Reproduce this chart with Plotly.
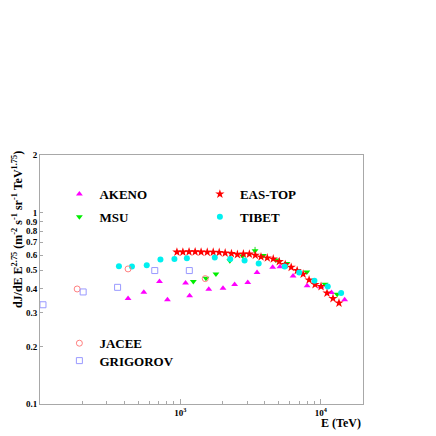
import plotly.graph_objects as go

# energies in TeV, flux dJ/dE * E^2.75
akeno_e = [424, 549, 710, 809, 1089, 1164, 1593, 2012, 2435, 3021, 3517, 4544, 5121, 6350, 7995, 10033, 11928, 14801]
akeno_f = [0.356, 0.384, 0.437, 0.351, 0.429, 0.368, 0.398, 0.402, 0.421, 0.432, 0.487, 0.518, 0.521, 0.466, 0.415, 0.410, 0.383, 0.350]

msu_e = [1237, 1522, 1792, 2251, 2775, 3404, 3897, 4796, 5741, 7957, 10727, 13092]
msu_f = [0.436, 0.454, 0.478, 0.560, 0.593, 0.632, 0.597, 0.565, 0.542, 0.489, 0.423, 0.375]
msu_err = [0, 0, 0, 0, 0, 0.03, 0, 0, 0, 0, 0, 0]

eastop_e = [945, 1042, 1153, 1274, 1405, 1554, 1714, 1891, 2085, 2311, 2549, 2811, 3101, 3420,
            3753, 4160, 4588, 5062, 5583, 6158, 6791, 7491, 8260, 9112, 10049, 11084, 12227, 13487]
eastop_f = [0.622, 0.622, 0.624, 0.624, 0.622, 0.621, 0.621, 0.619, 0.615, 0.611, 0.604, 0.608, 0.607, 0.599,
            0.587, 0.580, 0.573, 0.555, 0.535, 0.518, 0.498, 0.477, 0.445, 0.421, 0.411, 0.380, 0.356, 0.337]

tibet_e = [365, 452, 576, 721, 907, 1112, 1758, 2264, 2866, 3613, 5534, 7018, 9017, 11220, 13970]
tibet_f = [0.524, 0.523, 0.531, 0.569, 0.573, 0.578, 0.583, 0.573, 0.562, 0.542, 0.523, 0.486, 0.441, 0.411, 0.380]

jacee_e = [184, 424, 1504]
jacee_f = [0.399, 0.508, 0.452]

grigorov_e = [105, 203, 357, 657, 1158]
grigorov_f = [0.330, 0.385, 0.407, 0.498, 0.498]

y_ticks = [0.1, 0.2, 0.3, 0.4, 0.5, 0.6, 0.7, 0.8, 0.9, 1, 2]
y_labels = ["0.1", "0.2", "0.3", "0.4", "0.5", "0.6", "0.7", "0.8", "0.9", "1", "2"]
x_major = [1000, 10000]
x_labels = ["10<sup>3</sup>", "10<sup>4</sup>"]
x_minor = [200, 300, 400, 500, 600, 700, 800, 900, 2000, 3000, 4000, 5000, 6000, 7000, 8000, 9000]

SERIF = "Liberation Serif"

fig = go.Figure()
fig.add_trace(go.Scatter(x=akeno_e, y=akeno_f, mode="markers", name="AKENO", legend="legend",
                         marker={"symbol": "triangle-up", "size": 6, "color": "#ff00ff"}))
fig.add_trace(go.Scatter(x=msu_e, y=msu_f, mode="markers", name="MSU", legend="legend2",
                         error_y={"type": "data", "array": msu_err, "arrayminus": [0] * len(msu_err),
                                  "color": "#22dd22", "width": 0, "thickness": 1},
                         marker={"symbol": "triangle-down", "size": 6, "color": "#00ee00"}))
fig.add_trace(go.Scatter(x=eastop_e, y=eastop_f, mode="markers", name="EAS-TOP", legend="legend3",
                         marker={"symbol": "star", "size": 7, "color": "#ff0000"}))
fig.add_trace(go.Scatter(x=tibet_e, y=tibet_f, mode="markers", name="TIBET", legend="legend4",
                         marker={"symbol": "circle", "size": 6, "color": "#00f0f0"}))
fig.add_trace(go.Scatter(x=jacee_e, y=jacee_f, mode="markers", name="JACEE", legend="legend5",
                         marker={"symbol": "circle-open", "size": 6, "color": "#ff8080"}))
fig.add_trace(go.Scatter(x=grigorov_e, y=grigorov_f, mode="markers", name="GRIGOROV", legend="legend6",
                         marker={"symbol": "square-open", "size": 6, "color": "#9999ff"}))

legend_font = {"family": SERIF, "size": 13, "color": "black", "weight": "bold"}


def legend_at(x, y):
    return {"x": x, "y": y, "xanchor": "left", "yanchor": "middle", "bgcolor": "rgba(0,0,0,0)",
            "font": legend_font, "borderwidth": 0}


# the page body adds an 8px offset, so the figure is 428px and margins are shifted
fig.update_layout(
    width=428,
    height=428,
    margin={"l": 32, "r": 73, "t": 147, "b": 32},
    plot_bgcolor="white",
    paper_bgcolor="white",
    showlegend=True,
    legend=legend_at(0.06, 0.843),
    legend2=legend_at(0.06, 0.752),
    legend3=legend_at(0.495, 0.843),
    legend4=legend_at(0.495, 0.752),
    legend5=legend_at(0.06, 0.244),
    legend6=legend_at(0.06, 0.174),
    xaxis={
        "type": "log",
        "range": [2.0, 4.301],
        "showgrid": False,
        "zeroline": False,
        "showline": True,
        "linecolor": "#a8a8a8",
        "linewidth": 1,
        "mirror": True,
        "tickmode": "array",
        "tickvals": x_major,
        "ticktext": x_labels,
        "ticks": "inside",
        "ticklen": 5,
        "tickcolor": "#a8a8a8",
        "tickfont": {"family": SERIF, "size": 9, "color": "black", "weight": "bold"},
        "minor": {"tickmode": "array", "tickvals": x_minor, "ticks": "inside", "ticklen": 3,
                  "tickcolor": "#a8a8a8", "showgrid": False},
    },
    yaxis={
        "type": "log",
        "range": [-1, 0.30103],
        "showgrid": False,
        "zeroline": False,
        "showline": True,
        "linecolor": "#a8a8a8",
        "linewidth": 1,
        "mirror": True,
        "tickmode": "array",
        "tickvals": y_ticks,
        "ticktext": y_labels,
        "ticks": "inside",
        "ticklen": 3,
        "tickcolor": "#a8a8a8",
        "tickfont": {"family": SERIF, "size": 9, "color": "black", "weight": "bold"},
    },
    annotations=[
        {
            "text": "dJ/dE E<sup>2.75</sup> (m<sup>-2</sup> s<sup>-1</sup> sr<sup>-1</sup> TeV<sup>1.75</sup>)",
            "xref": "paper", "yref": "paper", "x": -0.07, "y": 0.70,
            "xanchor": "center", "yanchor": "middle", "textangle": -90, "showarrow": False,
            "font": {"family": SERIF, "size": 12, "color": "black", "weight": "bold"},
        },
        {
            "text": "E (TeV)",
            "xref": "paper", "yref": "paper", "x": 1.0, "y": -0.075,
            "xanchor": "right", "yanchor": "middle", "showarrow": False,
            "font": {"family": SERIF, "size": 12, "color": "black", "weight": "bold"},
        },
    ],
)

fig.write_html("out.html")
